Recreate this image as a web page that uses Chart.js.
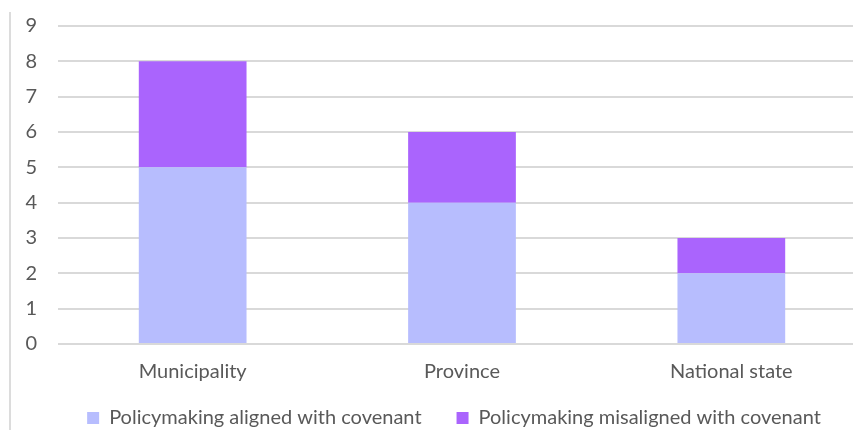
<!DOCTYPE html>
<html>
<head>
<meta charset="utf-8">
<script src="https://cdn.jsdelivr.net/npm/chart.js@4/dist/chart.umd.min.js"></script>
<style>
  html, body { margin: 0; padding: 0; background: #fff; overflow: hidden; }
  #wrap { position: relative; width: 866px; height: 430px; }
  #rule { position: absolute; left: 9px; top: 12px; width: 2px; height: 418px; background: #dcdcdc; }
  canvas { display: block; }
</style>
</head>
<body>
<div id="wrap">
  <div id="rule"></div>
  <canvas id="c" width="866" height="430"></canvas>
</div>
<script>
// Levels of government
const categories = ['Municipality', 'Province', 'National state'];
// Number of policymaking cases per level
const alignedValues = [5, 4, 2];
const misalignedValues = [3, 2, 1];
const seriesNames = ['Policymaking aligned with covenant', 'Policymaking misaligned with covenant'];
const yTicks = [0, 1, 2, 3, 4, 5, 6, 7, 8, 9];

const textColor = '#595959';
const fontFamily = 'Lato, "Open Sans", sans-serif';

// Centre the legend row under the plot area and pull it up a little
const legendShift = {
  id: 'legendShift',
  afterLayout(chart) {
    const lg = chart.legend;
    if (!lg) return;
    const mid = (chart.chartArea.left + chart.chartArea.right) / 2;
    const dx = mid - (lg.left + lg.right) / 2 - 8;
    lg.left += dx;
    lg.right += dx;
    const dy = -21;
    lg.top += dy;
    lg.bottom += dy;
  }
};

new Chart(document.getElementById('c'), {
  type: 'bar',
  data: {
    labels: categories,
    datasets: [
      { label: seriesNames[0], data: alignedValues, backgroundColor: '#b7bdfe', borderWidth: 0 },
      { label: seriesNames[1], data: misalignedValues, backgroundColor: '#aa64fd', borderWidth: 0 }
    ]
  },
  plugins: [legendShift],
  options: {
    responsive: false,
    animation: false,
    layout: { padding: { top: 26, left: 0, right: 0, bottom: -29 } },
    datasets: { bar: { categoryPercentage: 1, barPercentage: 0.4 } },
    plugins: {
      tooltip: { enabled: false },
      legend: {
        position: 'bottom',
        align: 'center',
        labels: {
          color: textColor,
          font: { family: fontFamily, size: 20 },
          boxWidth: 12, boxHeight: 12, padding: 35,
          generateLabels(chart) {
            return chart.data.datasets.map((ds, i) => ({
              text: ds.label, fillStyle: ds.backgroundColor, strokeStyle: ds.backgroundColor,
              lineWidth: 0, datasetIndex: i, fontColor: textColor
            }));
          }
        }
      }
    },
    scales: {
      x: {
        stacked: true,
        grid: { display: false, drawTicks: false },
        border: { display: false },
        ticks: { color: textColor, font: { family: fontFamily, size: 20 }, padding: 16 },
        afterFit(scale) { scale.height = 50; scale.paddingLeft = 0; scale.paddingRight = 0; }
      },
      y: {
        stacked: true,
        min: 0, max: 9,
        afterBuildTicks(scale) { scale.ticks = yTicks.map(v => ({ value: v })); },
        grid: { color: '#d9d9d9', lineWidth: 2, drawTicks: false },
        border: { display: false },
        ticks: { color: textColor, font: { family: fontFamily, size: 20 }, padding: 21 },
        afterFit(scale) { scale.width = 58; scale.paddingTop = 0; scale.paddingBottom = 0; }
      }
    }
  }
});
</script>
</body>
</html>
